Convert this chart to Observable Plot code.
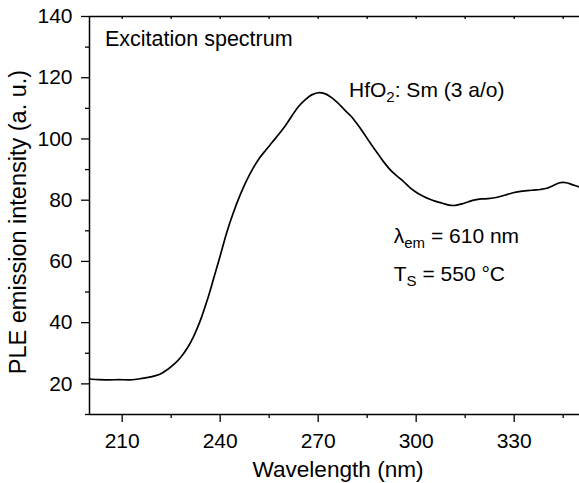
<!DOCTYPE html>
<html>
<head>
<meta charset="utf-8">
<script src="https://cdn.jsdelivr.net/npm/d3@7"></script>
<script src="https://cdn.jsdelivr.net/npm/@observablehq/plot@0.6"></script>
<style>
  html, body { margin: 0; padding: 0; background: white; }
</style>
</head>
<body>
<script>
const wavelength = [200,203,206,209,212,215,218,220,222,224,226,228,230,232,234,236,238,240,242,244,246,248,250,252,254,256,258,260,262,264,266,268,270,272,274,276,278,280,282,284,286,288,290,292,294,296,298,300,302,304,306,308,310,312,314,316,318,320,322,324,326,328,330,332,334,336,338,340,342,344,346,348,350];
const intensity = [21.6,21.4,21.3,21.4,21.3,21.6,22.1,22.6,23.4,24.8,26.5,28.8,31.8,35.8,40.9,47.2,54.4,61.8,69.4,75.8,81.4,86.2,90.3,93.7,96.4,99.0,101.6,104.4,107.6,110.6,112.8,114.4,115.1,114.8,113.6,111.8,109.6,107.5,104.8,101.8,98.6,95.6,92.6,90.0,88.0,86.2,84.2,82.6,81.4,80.4,79.6,79.0,78.4,78.3,78.8,79.5,80.1,80.4,80.5,80.8,81.3,81.9,82.5,82.9,83.1,83.3,83.5,83.9,84.8,85.7,85.7,85.0,84.3];

const xMajorTicks = [210, 240, 270, 300, 330];
const xMinorTicks = [225, 255, 285, 315, 345];
const xTopTicks = [210, 225, 240, 255, 270, 285, 300, 315, 330, 345];
const yMajorTicks = [20, 40, 60, 80, 100, 120, 140];
const yMinorTicks = [10, 30, 50, 70, 90, 110, 130];

const xLabel = "Wavelength (nm)";
const yLabel = "PLE emission intensity (a. u.)";

// annotations: [text parts], anchored in data coordinates
const noteX = [204.9, 279.6, 293.3, 293.3];
const noteY = [130.1, 113.6, 65.9, 53.3];
const noteParts = [
  [["Excitation spectrum", false]],
  [["HfO", false], ["2", true], [": Sm (3 a/o)", false]],
  [["λ", false], ["em", true], [" = 610 nm", false]],
  [["T", false], ["S", true], [" = 550 °C", false]]
];

const data = wavelength.map((w, i) => ({w, v: intensity[i]}));
const font = "'Liberation Sans', Arial, Helvetica, sans-serif";

const plot = Plot.plot({
  width: 579,
  height: 483,
  marginLeft: 89,
  marginRight: 0,
  marginTop: 16,
  marginBottom: 69,
  x: {domain: [200, 350]},
  y: {domain: [10, 140]},
  style: {fontFamily: font, fontSize: "21px", color: "black", background: "white"},
  marks: [
    Plot.axisY(yMajorTicks, {tickSize: 8, tickPadding: 9, fontSize: 21, strokeWidth: 1.3, label: null}),
    Plot.axisY(yMinorTicks, {tickSize: 4, tickFormat: () => "", strokeWidth: 1.3, label: null}),
    Plot.axisX(xMajorTicks, {tickSize: 8, tickPadding: 11, fontSize: 21, strokeWidth: 1.3, label: null}),
    Plot.axisX(xMinorTicks, {tickSize: 4, tickFormat: () => "", strokeWidth: 1.3, label: null}),
    Plot.ruleX(xTopTicks, {y1: 140, y2: 139, stroke: "black", strokeWidth: 1.3}),
    Plot.ruleY([10], {stroke: "black", strokeWidth: 1.5}),
    Plot.ruleY([140], {stroke: "black", strokeWidth: 1.5}),
    Plot.ruleX([200], {stroke: "black", strokeWidth: 1.5}),
    Plot.line(data, {x: "w", y: "v", stroke: "black", strokeWidth: 1.7, curve: "catmull-rom"})
  ]
});

const svg = d3.select(plot);
const sx = plot.scale("x"), sy = plot.scale("y");

// axis titles
svg.append("text")
  .attr("x", 338).attr("y", 477)
  .attr("text-anchor", "middle")
  .attr("font-family", font).attr("font-size", 22.6)
  .attr("fill", "black")
  .text(xLabel);

svg.append("text")
  .attr("transform", `translate(26, 222) rotate(-90)`)
  .attr("text-anchor", "middle")
  .attr("font-family", font).attr("font-size", 23.5)
  .attr("fill", "black")
  .text(yLabel);

// annotations
noteParts.forEach((parts, i) => {
  const t = svg.append("text")
    .attr("x", sx.apply(noteX[i]))
    .attr("y", sy.apply(noteY[i]))
    .attr("text-anchor", "start")
    .attr("font-family", font).attr("font-size", i === 0 ? 21.5 : 21)
    .attr("fill", "black");
  let shifted = false;
  parts.forEach(([s, sub]) => {
    const ts = t.append("tspan").text(s);
    if (sub) { ts.attr("font-size", 15).attr("dy", 5); shifted = true; }
    else if (shifted) { ts.attr("dy", -5); shifted = false; }
  });
});

document.body.append(plot);
</script>
</body>
</html>
